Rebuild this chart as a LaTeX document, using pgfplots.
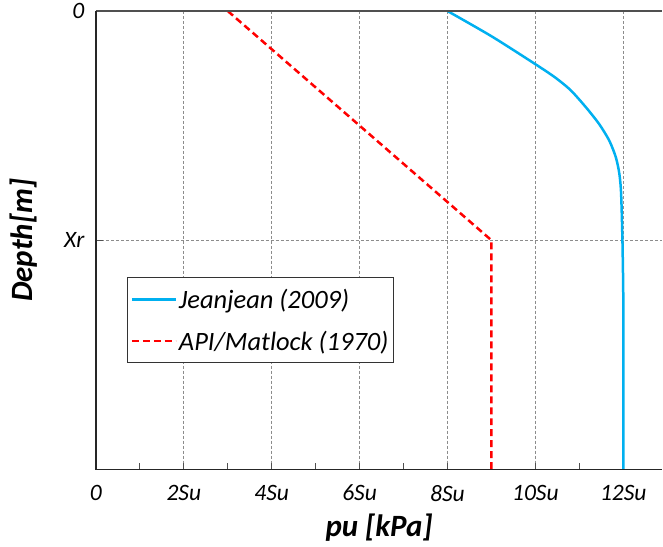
\documentclass[border=0pt]{standalone}
\usepackage{pgfplots}
\pgfplotsset{compat=1.18}
\usepackage{fontspec}
\setmainfont{Carlito}
\definecolor{jblue}{HTML}{00B0F0}
\definecolor{gridgray}{HTML}{8C8C8C}
\definecolor{axgray}{HTML}{505050}
\begin{document}
\begin{tikzpicture}
\begin{axis}[
  at={(0,0)}, anchor=south west,
  scale only axis,
  width=567pt, height=459pt,
  xmin=0, xmax=12.886,
  ymin=0, ymax=2, y dir=reverse,
  axis line style={draw=none},
  xtick={0,2,4,6,8,10,12},
  xticklabels={0,2Su,4Su,6Su,8Su,10Su,12Su},
  minor xtick={1,3,5,7,9,11},
  ytick={0,1},
  yticklabels={0,Xr},
  tick pos=left,
  tick align=inside,
  major tick length=7pt,
  minor tick length=7pt,
  every tick/.style={axgray, line width=1pt},
  xmajorgrids, ymajorgrids,
  major grid style={gridgray, line width=0.8pt, dash pattern=on 3pt off 2pt},
  tick label style={font=\fontsize{23.5}{27}\selectfont\itshape},
  xticklabel style={yshift=-12pt},
  yticklabel style={xshift=-8pt},
  xlabel={pu [kPa]},
  ylabel={Depth[m]},
  label style={font=\fontsize{31}{35}\selectfont\bfseries\itshape},
  xlabel style={yshift=-6pt},
  ylabel style={yshift=20pt},
  legend style={at={(rel axis cs:0.055,0.419)}, anchor=north west,
    font=\fontsize{26.5}{30}\selectfont\itshape,
    draw=black!80, line width=1pt, inner xsep=3pt, inner ysep=9pt,
    row sep=17pt},
  legend cell align=left,
  legend image code/.code={\draw[#1] (0pt,0pt) -- (44pt,0pt);},
  clip=false,
]
\addplot[jblue, line width=2.5pt, smooth, tension=0.45] coordinates {
  (8,0) (9,0.110) (10,0.232) (10.45,0.290) (10.80,0.345) (11.15,0.420) (11.45,0.493)
  (11.68,0.565) (11.83,0.638) (11.91,0.710) (11.95,0.797) (11.98,1.0)
  (12.0,1.26) (12.0,1.6) (12.0,2.0)
};
\addlegendentry{Jeanjean (2009)}
\addplot[red, line width=2.5pt, dash pattern=on 7pt off 4pt] coordinates {
  (3,0) (9,1) (9,2)
};
\addlegendentry{API/Matlock (1970)}
\end{axis}
\draw[axgray, line width=1.5pt] (0pt,459pt) -- (567pt,459pt);
\draw[black!85, line width=1.5pt] (0pt,459pt) -- (0pt,0pt) -- (567pt,0pt);
\path[use as bounding box] (-96pt,-77pt) rectangle (567pt,469pt);
\end{tikzpicture}
\end{document}
